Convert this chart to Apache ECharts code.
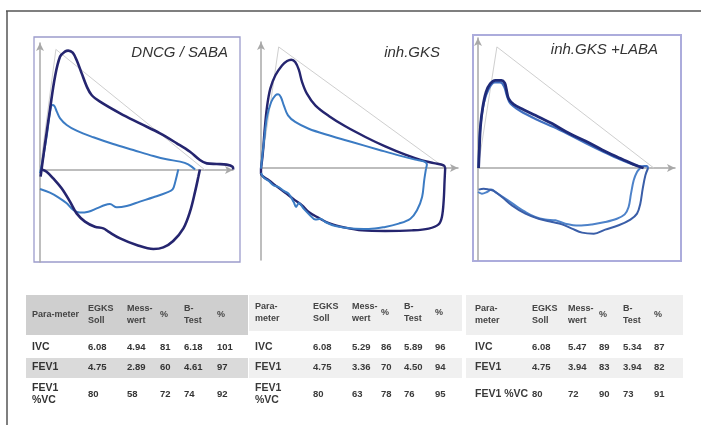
<!DOCTYPE html>
<html>
<head>
<meta charset="utf-8">
<script src="https://cdn.jsdelivr.net/npm/echarts@6/dist/echarts.min.js"></script>
<style>
html,body{margin:0;padding:0;background:#fff;}
#chart{width:701px;height:425px;}
</style>
</head>
<body>
<div id="chart"></div>
<script>
// ---------- DATA (volume L, flow L/s) ----------
const panelTitles = ['DNCG / SABA', 'inh.GKS', 'inh.GKS +LABA'];

// Panel 1: DNCG / SABA
const p1Pred = [[0,0],[0.53,8.04],[5.5,0]];
const p1DarkExp = [[0.02,-0.44],[0.17,1.78],[0.33,4.0],[0.5,6.22],[0.67,7.56],[0.83,7.89],[0.94,7.96],[1.09,7.82],[1.22,7.33],[1.39,6.44],[1.56,5.56],[1.72,5.0],[2.0,4.56],[2.67,3.78],[3.33,3.11],[4.0,2.44],[4.56,1.78],[5.0,1.22],[5.33,0.67],[5.56,0.44],[5.89,0.4],[6.22,0.36],[6.42,0.22],[6.44,0.04]];
const p1DarkInsp = [[0.06,0.04],[0.22,-0.11],[0.44,-0.56],[0.72,-1.22],[1.0,-2.11],[1.22,-2.89],[1.5,-3.44],[1.83,-3.78],[2.11,-3.89],[2.28,-4.11],[2.67,-4.56],[3.22,-5.0],[3.78,-5.27],[4.11,-5.16],[4.44,-4.73],[4.78,-3.89],[5.0,-2.78],[5.17,-1.44],[5.28,-0.44],[5.33,0.04]];
const p1LightExp = [[0,-0.22],[0.11,0.89],[0.22,2.22],[0.33,3.78],[0.41,4.33],[0.48,4.27],[0.56,3.89],[0.67,3.44],[0.89,3.0],[1.22,2.62],[1.78,2.18],[2.44,1.73],[3.11,1.33],[3.78,0.93],[4.22,0.71],[4.67,0.56],[4.94,0.38],[5.17,0.04]];
const p1LightInsp = [[0,-1.27],[0.33,-1.51],[0.61,-1.82],[0.89,-2.22],[1.11,-2.67],[1.33,-2.84],[1.61,-2.78],[1.89,-2.56],[2.17,-2.33],[2.33,-2.27],[2.56,-2.49],[2.89,-2.4],[3.33,-2.11],[3.78,-1.82],[4.22,-1.51],[4.42,-1.29],[4.51,-0.78],[4.58,-0.22],[4.61,0.04]];

// Panel 2: inh.GKS
const p2Pred = [[0,0],[0.59,8.07],[6.14,0]];
const p2DarkExp = [[0,-0.04],[0.06,0.96],[0.12,2.51],[0.2,4.07],[0.31,5.29],[0.48,6.18],[0.7,6.84],[0.87,7.13],[1.01,7.22],[1.14,7.07],[1.26,6.56],[1.37,5.73],[1.53,4.96],[1.81,4.18],[2.26,3.47],[2.81,2.78],[3.48,2.07],[4.14,1.44],[4.81,0.89],[5.37,0.51],[5.76,0.33],[6.09,0.18],[6.14,0]];
const p2DarkInsp = [[6.14,0],[6.12,-0.82],[6.09,-2.16],[6.03,-3.27],[5.92,-3.76],[5.59,-4.04],[5.03,-4.16],[4.14,-4.2],[3.37,-4.16],[2.81,-3.98],[2.31,-3.71],[1.87,-3.27],[1.59,-2.93],[1.37,-2.49],[1.14,-2.16],[0.92,-1.82],[0.7,-1.49],[0.48,-1.16],[0.26,-0.82],[0.09,-0.6],[0,-0.38],[0,-0.04]];
const p2LightExp = [[0,-0.04],[0.09,1.62],[0.2,3.4],[0.34,4.4],[0.48,4.84],[0.57,4.91],[0.66,4.73],[0.76,4.18],[0.9,3.51],[1.14,3.07],[1.59,2.62],[2.26,2.18],[3.03,1.73],[3.92,1.22],[4.59,0.84],[5.14,0.56],[5.42,0.44],[5.53,0.24],[5.5,-0.04]];
const p2LightInsp = [[5.5,-0.04],[5.44,-0.82],[5.37,-1.93],[5.2,-2.82],[4.98,-3.38],[4.59,-3.71],[4.14,-3.93],[3.59,-4.07],[3.03,-4.04],[2.48,-3.87],[2.14,-3.6],[1.98,-3.38],[1.81,-3.44],[1.64,-3.16],[1.42,-2.71],[1.26,-2.33],[1.17,-2.6],[1.09,-2.27],[0.92,-1.71],[0.76,-1.53],[0.59,-1.27],[0.42,-1.16],[0.26,-0.87],[0.09,-0.64],[0,-0.33]];

// Panel 3: inh.GKS +LABA
const p3Pred = [[0,0],[0.63,8.07],[5.86,0]];
const p3DarkExp = [[0.02,0],[0.04,0.96],[0.08,2.73],[0.16,4.07],[0.27,5.07],[0.41,5.62],[0.58,5.84],[0.78,5.84],[0.89,5.67],[0.94,5.29],[1.02,4.62],[1.19,4.24],[1.52,3.89],[1.91,3.51],[2.47,2.96],[3.02,2.33],[3.58,1.8],[4.13,1.22],[4.69,0.69],[5.13,0.29],[5.41,0.07],[5.52,0]];
const p3LightExp = [[0.02,0],[0.07,2.51],[0.19,4.29],[0.36,5.29],[0.56,5.71],[0.74,5.71],[0.87,5.44],[0.96,4.84],[1.08,4.29],[1.41,3.8],[1.97,3.22],[2.52,2.73],[3.08,2.18],[3.63,1.62],[4.19,1.07],[4.74,0.56],[5.19,0.22],[5.47,0.11],[5.63,0.13],[5.67,0]];
const p3InspA = [[5.41,0],[5.3,-0.27],[5.19,-0.82],[5.1,-1.71],[5.02,-2.6],[4.89,-3.09],[4.63,-3.38],[4.24,-3.6],[3.8,-3.76],[3.36,-3.84],[2.91,-3.71],[2.58,-3.49],[2.24,-3.44],[1.91,-3.27],[1.58,-2.93],[1.24,-2.49],[0.91,-2.04],[0.63,-1.67],[0.44,-1.44],[0.3,-1.6],[0.13,-1.71],[0,-1.6]];
const p3InspB = [[5.67,0],[5.58,-0.49],[5.49,-1.38],[5.41,-2.38],[5.3,-3.04],[5.08,-3.44],[4.69,-3.82],[4.24,-4.11],[3.86,-4.38],[3.47,-4.31],[3.13,-4.04],[2.8,-3.76],[2.47,-3.6],[2.02,-3.38],[1.58,-3.04],[1.13,-2.49],[0.8,-1.93],[0.52,-1.53],[0.36,-1.44],[0.19,-1.38],[0.02,-1.44]];

// Tables
const tableHeaders = [
  ['Para-meter', 'EGKS\nSoll', 'Mess-\nwert', '%', 'B-\nTest', '%'],
  ['Para-\nmeter', 'EGKS\nSoll', 'Mess-\nwert', '%', 'B-\nTest', '%'],
  ['Para-\nmeter', 'EGKS\nSoll', 'Mess-\nwert', '%', 'B-\nTest', '%']
];
const rowLabels = [
  ['IVC', 'FEV1', 'FEV1\n%VC'],
  ['IVC', 'FEV1', 'FEV1\n%VC'],
  ['IVC', 'FEV1', 'FEV1 %VC']
];
const table1Values = [
  ['6.08', '4.94', '81', '6.18', '101'],
  ['4.75', '2.89', '60', '4.61', '97'],
  ['80', '58', '72', '74', '92']
];
const table2Values = [
  ['6.08', '5.29', '86', '5.89', '96'],
  ['4.75', '3.36', '70', '4.50', '94'],
  ['80', '63', '78', '76', '95']
];
const table3Values = [
  ['6.08', '5.47', '89', '5.34', '87'],
  ['4.75', '3.94', '83', '3.94', '82'],
  ['80', '72', '90', '73', '91']
];

// ---------- LAYOUT ----------
const PX_PER_L = 30, PX_PER_LS = 15;
const panels = [
  {left:40, right:233, top:43, bottom:262, originY:170},
  {left:261, right:458, top:42, bottom:260, originY:168},
  {left:478, right:675, top:38, bottom:260, originY:168}
];
const titlePos = [{x:228, y:53}, {x:440, y:53}, {x:658, y:50}];
const tableLayout = [
  {bandX:26, bandW:222, labelX:32, colX:[88,127,160,184,217], headBand:'#cfcfcf', rowBand:'#dadada', headH:40, color:'#333'},
  {bandX:249, bandW:213, labelX:255, colX:[313,352,381,404,435], headBand:'#efefef', rowBand:'#f0f0f0', headH:36, color:'#3a3a3a'},
  {bandX:466, bandW:217, labelX:475, colX:[532,568,599,623,654], headBand:'#efefef', rowBand:'#f0f0f0', headH:40, color:'#3a3a3a'}
];
const rowY = [347, 367.5, 394];

const DARK = '#25256f', LIGHT = '#3b7bc3', PRED = '#cfcfcf';

const grids = [], xAxes = [], yAxes = [], series = [];
panels.forEach((p, i) => {
  grids.push({left:p.left, top:p.top, width:p.right - p.left, height:p.bottom - p.top});
  const axisLine = (arrowSize) => ({show:true, onZero:true, symbol:['none','arrow'], symbolSize:arrowSize, lineStyle:{color:'#a8a8a8', width:1.5}});
  xAxes.push({type:'value', gridIndex:i, min:0, max:(p.right - p.left)/PX_PER_L,
    axisLine:axisLine([6,8]), axisTick:{show:false}, axisLabel:{show:false}, splitLine:{show:false}});
  yAxes.push({type:'value', gridIndex:i, min:-(p.bottom - p.originY)/PX_PER_LS, max:(p.originY - p.top)/PX_PER_LS,
    axisLine:axisLine([6,8]), axisTick:{show:false}, axisLabel:{show:false}, splitLine:{show:false}});
});

function line(i, data, color, width, smooth) {
  series.push({type:'line', xAxisIndex:i, yAxisIndex:i, data:data, showSymbol:false, smooth:smooth === undefined ? 0.35 : smooth,
    lineStyle:{color:color, width:width}, silent:true, animation:false, z:3});
}
line(0, p1Pred, PRED, 1, false);
line(0, p1LightExp, LIGHT, 2);
line(0, p1LightInsp, LIGHT, 2);
line(0, p1DarkExp, DARK, 2.6);
line(0, p1DarkInsp, DARK, 2.6);

line(1, p2Pred, PRED, 1, false);
line(1, p2DarkExp, DARK, 2.4);
line(1, p2DarkInsp, DARK, 2.4);
line(1, p2LightExp, LIGHT, 2);
line(1, p2LightInsp, LIGHT, 2);

line(2, p3Pred, PRED, 1, false);
line(2, p3InspA, '#4d82c9', 2);
line(2, p3InspB, '#3a5ea8', 2);
line(2, p3LightExp, '#4070c0', 2.2);
line(2, p3DarkExp, '#1f2a78', 2.8);

// ---------- GRAPHICS: frames, titles, tables ----------
const graphics = [];
graphics.push({type:'line', shape:{x1:6, y1:11, x2:701, y2:11}, style:{stroke:'#555', lineWidth:1.5}, z:0});
graphics.push({type:'line', shape:{x1:7, y1:11, x2:7, y2:425}, style:{stroke:'#555', lineWidth:1.5}, z:0});
graphics.push({type:'rect', shape:{x:34, y:37, width:206, height:225}, style:{fill:'none', stroke:'#9c9ccc', lineWidth:1.3}, z:0});
graphics.push({type:'rect', shape:{x:473, y:35, width:208, height:226}, style:{fill:'none', stroke:'#acacdc', lineWidth:2}, z:0});

panelTitles.forEach((t, i) => {
  graphics.push({type:'text', x:titlePos[i].x, y:titlePos[i].y, z:5,
    style:{text:t, fill:'#333', font:'italic 15px "Liberation Sans", Arial, sans-serif', align:'right', verticalAlign:'middle'}});
});

const allValues = [table1Values, table2Values, table3Values];
tableLayout.forEach((L, ti) => {
  graphics.push({type:'rect', shape:{x:L.bandX, y:295, width:L.bandW, height:L.headH}, style:{fill:L.headBand}, z:0});
  graphics.push({type:'rect', shape:{x:L.bandX, y:358, width:L.bandW, height:20}, style:{fill:L.rowBand}, z:0});
  const hy = 295 + L.headH/2;
  tableHeaders[ti].forEach((h, ci) => {
    const x = ci === 0 ? L.labelX : L.colX[ci-1];
    graphics.push({type:'text', x:x, y:hy, z:5,
      style:{text:h, fill:'#444', font:'bold 9px "Liberation Sans", Arial, sans-serif', lineHeight:12, align:'left', verticalAlign:'middle'}});
  });
  rowLabels[ti].forEach((lab, ri) => {
    graphics.push({type:'text', x:L.labelX, y:rowY[ri], z:5,
      style:{text:lab, fill:L.color, font:'bold 10.5px "Liberation Sans", Arial, sans-serif', lineHeight:12, align:'left', verticalAlign:'middle'}});
    allValues[ti][ri].forEach((v, ci) => {
      graphics.push({type:'text', x:L.colX[ci], y:rowY[ri], z:5,
        style:{text:v, fill:L.color, font:'bold 9.5px "Liberation Sans", Arial, sans-serif', align:'left', verticalAlign:'middle'}});
    });
  });
});

const chart = echarts.init(document.getElementById('chart'), null, {renderer:'canvas'});
chart.setOption({
  animation:false,
  backgroundColor:'#ffffff',
  grid:grids, xAxis:xAxes, yAxis:yAxes, series:series,
  graphic:graphics
});
</script>
</body>
</html>
